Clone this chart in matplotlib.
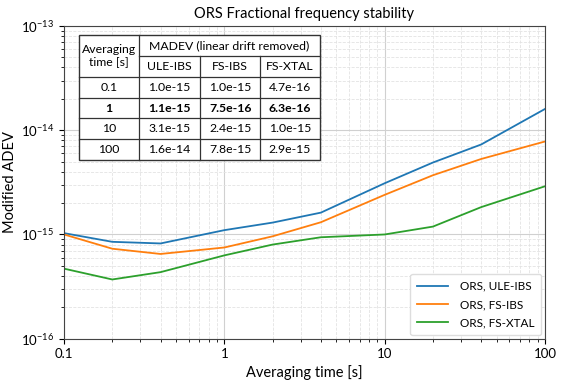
"""ORS fractional frequency stability (modified ADEV) with summary table."""

import matplotlib

matplotlib.use("Agg")
import matplotlib.pyplot as plt
from matplotlib.patches import Rectangle
from matplotlib.ticker import NullFormatter

tau = [0.1, 0.2, 0.4, 1, 2, 4, 10, 20, 40, 100]
ule_ibs = [1.03e-15, 8.5e-16, 8.2e-16, 1.1e-15, 1.3e-15, 1.62e-15, 3.1e-15, 4.9e-15, 7.3e-15, 1.6e-14]
fs_ibs = [1.0e-15, 7.3e-16, 6.5e-16, 7.5e-16, 9.6e-16, 1.31e-15, 2.4e-15, 3.7e-15, 5.3e-15, 7.8e-15]
fs_xtal = [4.7e-16, 3.7e-16, 4.35e-16, 6.3e-16, 8.0e-16, 9.4e-16, 1.0e-15, 1.19e-15, 1.83e-15, 2.9e-15]
series_labels = ["ORS, ULE-IBS", "ORS, FS-IBS", "ORS, FS-XTAL"]

table_header = "MADEV (linear drift removed)"
table_columns = ["ULE-IBS", "FS-IBS", "FS-XTAL"]
table_rows = ["0.1", "1", "10", "100"]
table_cells = [
    ["1.0e-15", "1.0e-15", "4.7e-16"],
    ["1.1e-15", "7.5e-16", "6.3e-16"],
    ["3.1e-15", "2.4e-15", "1.0e-15"],
    ["1.6e-14", "7.8e-15", "2.9e-15"],
]
bold_row = 1

plt.rcParams["font.family"] = ["Lato", "DejaVu Sans"]
plt.rcParams["mathtext.default"] = "regular"


def draw_table(ax):
    # table box in axes coordinates
    x0, x1 = 0.031, 0.532
    y1, y0 = 0.971, 0.571
    col_edges = [x0, 0.156, 0.283, 0.408, x1]
    nrows = 6
    h = (y1 - y0) / nrows
    tr = ax.transAxes
    ax.add_patch(Rectangle((x0, y0), x1 - x0, y1 - y0, transform=tr,
                           facecolor="white", edgecolor="#333333", lw=1.0, zorder=5))
    kw = dict(transform=tr, color="#333333", lw=0.9, zorder=6)
    for i in range(1, nrows):
        y = y1 - i * h
        xs = col_edges[1] if i == 1 else x0
        ax.plot([xs, x1], [y, y], **kw)
    ax.plot([col_edges[1], col_edges[1]], [y0, y1], **kw)
    for c in (2, 3):
        ax.plot([col_edges[c], col_edges[c]], [y0, y1 - h], **kw)

    tk = dict(transform=tr, ha="center", va="center", fontsize=8.8, zorder=7, color="black")
    ax.text((col_edges[0] + col_edges[1]) / 2, y1 - h, "Averaging\ntime [s]",
            linespacing=1.1, **tk)
    ax.text((col_edges[1] + x1) / 2, y1 - 0.5 * h, table_header, **tk)
    for c, name in enumerate(table_columns):
        ax.text((col_edges[c + 1] + col_edges[c + 2]) / 2, y1 - 1.5 * h, name, **tk)
    for r, (lab, vals) in enumerate(zip(table_rows, table_cells)):
        yc = y1 - (2.5 + r) * h
        weight = "bold" if r == bold_row else "normal"
        ax.text((col_edges[0] + col_edges[1]) / 2, yc, lab, fontweight=weight, **tk)
        for c, v in enumerate(vals):
            ax.text((col_edges[c + 1] + col_edges[c + 2]) / 2, yc, v,
                    fontweight=weight, **tk)


fig = plt.figure(figsize=(5.66, 3.88), dpi=100)
ax = fig.add_axes([64 / 566, 1 - 338.7 / 388, 481 / 566, 312.7 / 388])

for vals, lab in zip([ule_ibs, fs_ibs, fs_xtal], series_labels):
    ax.plot(tau, vals, lw=1.3, label=lab)

ax.set_xscale("log")
ax.set_yscale("log")
ax.set_xlim(0.1, 100)
ax.set_ylim(1e-16, 1e-13)
ax.set_xticks([0.1, 1, 10, 100])
ax.set_xticklabels(["0.1", "1", "10", "100"])
ax.xaxis.set_minor_formatter(NullFormatter())
ax.yaxis.set_minor_formatter(NullFormatter())
ax.grid(True, which="major", color="#d0d0d0", lw=0.8)
ax.grid(True, which="minor", color="#e3e3e3", lw=0.6, ls="--")
ax.tick_params(labelsize=9.5)
for s in ax.spines.values():
    s.set_color("#444444")

ax.set_xlabel("Averaging time [s]", fontsize=10.5, labelpad=3)
ax.set_ylabel("Modified ADEV", fontsize=10.5, labelpad=3)
ax.set_title("ORS Fractional frequency stability", fontsize=10.5, pad=6)

ax.legend(loc="lower right", fontsize=8.5, handlelength=2.6, borderpad=0.6,
          labelspacing=0.6, handletextpad=1.0, framealpha=1, edgecolor="#dddddd",
          borderaxespad=0.3)

draw_table(ax)

fig.savefig("out.png", dpi=100)
